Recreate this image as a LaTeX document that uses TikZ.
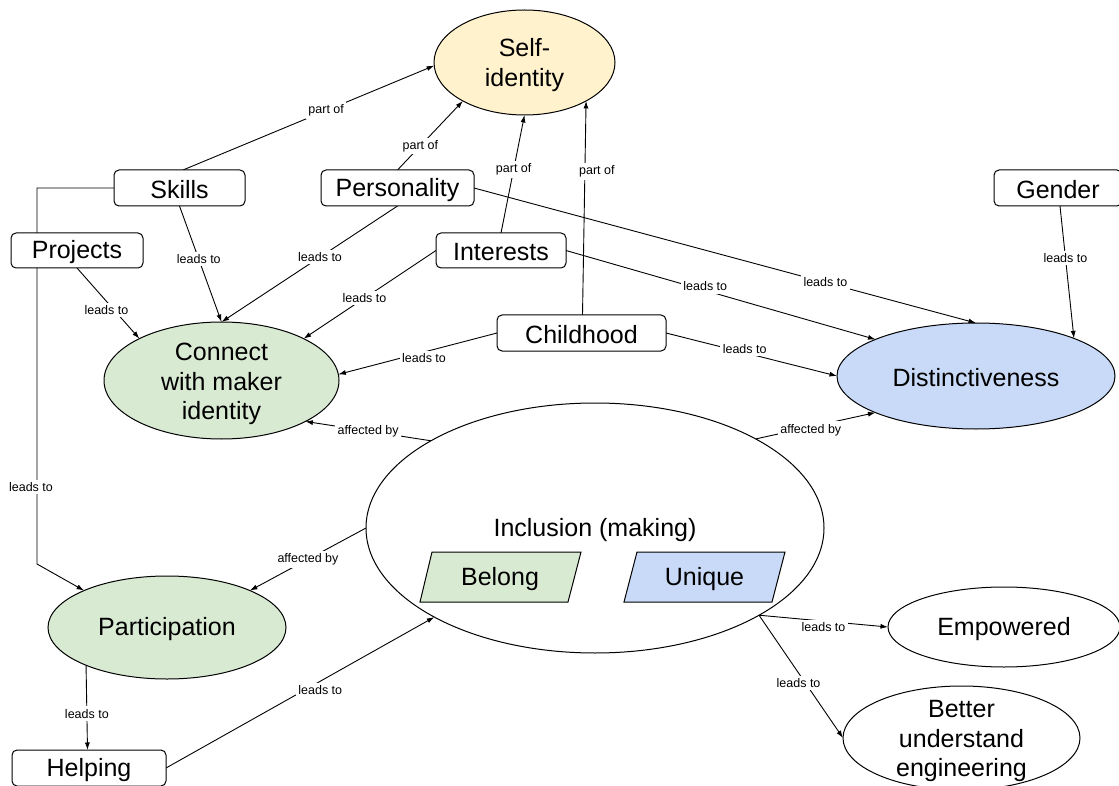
\documentclass[tikz,border=0pt]{standalone}
\usepackage{fontspec}
\setmainfont{Liberation Sans}
\usetikzlibrary{shapes.geometric,arrows.meta,backgrounds}
\definecolor{lgreen}{HTML}{D9EAD3}
\definecolor{lblue}{HTML}{C9DAF8}
\definecolor{lyellow}{HTML}{FFF2CC}
\begin{document}
\begin{tikzpicture}[x=1pt,y=-1pt,
  every node/.style={font=\fontsize{25}{29.5}\selectfont, outer sep=0pt},
  box/.style={draw, rounded corners=5pt, fill=white, line width=1pt, inner sep=0pt},
  oval/.style={draw, ellipse, line width=1pt, inner sep=0pt, align=center},
  txt/.style={align=center, inner sep=0pt},
  lbl/.style={font=\fontsize{12.5}{14}\selectfont, fill=white, inner sep=2.5pt},
  arr/.style={line width=0.9pt, -{Latex[length=7.5pt,width=5pt]}},
  para/.style={draw, line width=1pt}]
\useasboundingbox (0,0) rectangle (1119,786);

% ellipses
\node[oval, fill=lyellow, minimum width=181pt, minimum height=105pt] (self) at (524.5,62.5) {};
\node[txt] (selftxt) at (524.5,65) {Self-\\identity};
\node[oval, fill=lgreen, minimum width=235pt, minimum height=117pt] (connect) at (221.5,380.5) {};
\node[txt] (connecttxt) at (221.5,384) {Connect\\with maker\\identity};
\node[oval, fill=lblue, minimum width=278pt, minimum height=106pt] (dist) at (976,376) {};
\node (disttxt) at (976,378) {Distinctiveness};
\node[oval, fill=white, minimum width=458pt, minimum height=250pt] (incl) at (595,528) {};
\node (incltxt) at (595,530) {Inclusion (making)};
\node[oval, fill=lgreen, minimum width=238pt, minimum height=103pt] (part) at (167,627.5) {};
\node (parttxt) at (167,629) {Participation};
\node[oval, fill=white, minimum width=232pt, minimum height=80pt] (empowered) at (1004,627) {};
\node (emptxt) at (1004,629) {Empowered};
\node[oval, fill=white, minimum width=237pt, minimum height=104pt] (better) at (961.5,738) {};
\node[txt] (bettertxt) at (961.5,741) {Better\\understand\\engineering};

% parallelograms
\filldraw[para, fill=lgreen] (420,602) -- (432,552) -- (581,552) -- (568,602) -- cycle;
\node (belong) at (500,579) {Belong};
\filldraw[para, fill=lblue] (624,602) -- (637,552) -- (785,552) -- (772,602) -- cycle;
\node (unique) at (704.5,579) {Unique};

% boxes
\node[box, minimum width=131pt, minimum height=36pt] (skills) at (179.5,188) {};
\node (skillstxt) at (179.5,190) {Skills};
\node[box, minimum width=153pt, minimum height=36pt] (personality) at (397.5,188) {};
\node (personalitytxt) at (397.5,190) {Personality};
\node[box, minimum width=128pt, minimum height=36pt] (gender) at (1058,188) {};
\node (gendertxt) at (1058,190) {Gender};
\node[box, minimum width=132pt, minimum height=35pt] (projects) at (77,250.5) {};
\node (projectstxt) at (77,252.5) {Projects};
\node[box, minimum width=130pt, minimum height=35pt] (interests) at (501,250.5) {};
\node (intereststxt) at (501,252.5) {Interests};
\node[box, minimum width=169pt, minimum height=36pt] (childhood) at (581.5,333) {};
\node (childhoodtxt) at (581.5,335) {Childhood};
\node[box, minimum width=154pt, minimum height=36pt] (helping) at (89,768) {};
\node (helpingtxt) at (89,770) {Helping};

\coordinate (c0) at (37,188);
\coordinate (c1) at (37,564);

\begin{pgfonlayer}{background}
\fill[white] (0,0) rectangle (1119,786);
\draw[arr] ([xshift=3.5pt]skills.north) -- node[lbl,pos=.57]{part of} (self.182);
\draw[arr] (personality.north) -- node[lbl,pos=.35]{part of} (self.212);
\draw[arr] (interests.north) -- node[lbl,pos=.54]{part of} (self.south);
\draw[arr] ([xshift=1pt]childhood.north) -- node[lbl,pos=.67,xshift=12pt]{part of} (self.-32);
\draw[arr] (skills.south) -- node[lbl,pos=.46]{leads to} (connect.north);
\draw[arr] (personality.south) -- node[lbl,pos=.44]{leads to} (connect.north);
\draw[arr] (interests.west) -- node[lbl,pos=.54]{leads to} (connect.27);
\draw[arr] (projects.south) -- node[lbl,pos=.6,xshift=-8pt]{leads to} (connect.153);
\draw[arr] (childhood.west) -- node[lbl,pos=.46,yshift=-6pt]{leads to} (connect.3);
\draw[arr] (personality.east) -- node[lbl,pos=.7]{leads to} (dist.north);
\draw[arr] (interests.east) -- node[lbl,pos=.45,yshift=4pt]{leads to} (dist.160);
\draw[arr] (childhood.east) -- node[lbl,pos=.46,yshift=4pt]{leads to} (dist.west);
\draw[arr] ([xshift=2pt]gender.south) -- node[lbl,pos=.39]{leads to} (dist.21);
\draw[arr] (skills.west) -- (c0) -- node[lbl,pos=.795,xshift=-6pt]{leads to} (c1) -- (part.156);
\draw[arr] (incl.152) -- node[lbl,pos=.5]{affected by} (connect.-26);
\draw[arr] (incl.29) -- node[lbl,pos=.46,yshift=-3pt]{affected by} (dist.200);
\draw[arr] (incl.west) -- node[lbl,pos=.5]{affected by} (part.24);
\draw[arr] (part.205) -- node[lbl,pos=.57]{leads to} ([xshift=-1.5pt]helping.north);
\draw[arr] (helping.east) -- node[lbl,pos=.575,yshift=-9pt]{leads to} (incl.209);
\draw[arr] (incl.-28) -- node[lbl,pos=.5,yshift=-6pt]{leads to} (empowered.west);
\draw[arr] (incl.-28) -- node[lbl,pos=.554,xshift=-7pt]{leads to} (better.west);
\end{pgfonlayer}
\end{tikzpicture}
\end{document}
